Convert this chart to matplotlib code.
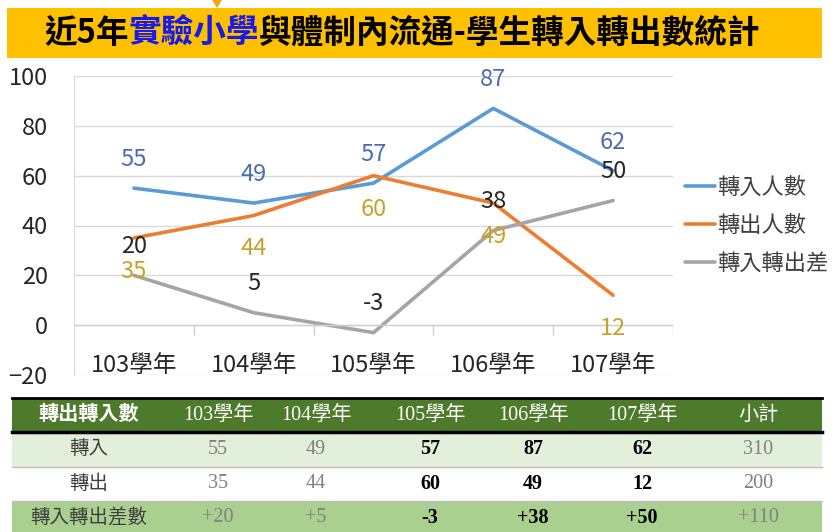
import matplotlib
matplotlib.use('Agg')
import matplotlib.pyplot as plt
from matplotlib.patches import Rectangle, Polygon

plt.rcParams['font.family'] = ['Noto Sans CJK TC', 'DejaVu Sans']

# data
years = ['103學年', '104學年', '105學年', '106學年', '107學年']
transfer_in = [55, 49, 57, 87, 62]
transfer_out = [35, 44, 60, 49, 12]
net_diff = [20, 5, -3, 38, 50]
series_names = ['轉入人數', '轉出人數', '轉入轉出差']

table_header = ['轉出轉入數'] + years + ['小計']
row_labels = ['轉入', '轉出', '轉入轉出差數']

W, H = 839, 532
fig = plt.figure(figsize=(W / 100, H / 100), dpi=100)

# overlay in pixel coords for title bar and table
ov = fig.add_axes([0, 0, 1, 1], zorder=0)
ov.set_xlim(0, W)
ov.set_ylim(H, 0)
ov.axis('off')

# title bar
ov.add_patch(Rectangle((7, 8), 815, 50, facecolor='#FFC000', edgecolor='none'))
ov.add_patch(Polygon([(212, 0), (222, 0), (217, 8)], closed=True,
                     facecolor='#F2A516', edgecolor='none'))
tfont = dict(fontsize=23.5, fontweight='bold', va='center')
t1 = ov.text(44, 33, '近5年', color='black', ha='left', **tfont)
t2 = ov.annotate('實驗小學', xy=(1, 0.5), xycoords=t1, color='#1A1AE6',
                 ha='left', **tfont)
t3 = ov.annotate('與體制內流通-學生轉入轉出數統計', xy=(1, 0.5), xycoords=t2,
                 color='black', ha='left', **tfont)

# main chart
ax = fig.add_axes([74 / W, 1 - 375 / H, (673 - 74) / W, (375 - 76) / H], zorder=1)
x = list(range(len(years)))
c_in, c_out, c_diff = '#5B9BD5', '#ED7D31', '#A5A5A5'
ax.plot(x, transfer_in, color=c_in, lw=2.6, label=series_names[0], solid_capstyle='round')
ax.plot(x, transfer_out, color=c_out, lw=2.6, label=series_names[1], solid_capstyle='round')
ax.plot(x, net_diff, color=c_diff, lw=2.6, label=series_names[2], solid_capstyle='round')

for xi, v in zip(x, transfer_in):
    ax.annotate(str(v), (xi, v), xytext=(0, 20.5), textcoords='offset points',
                ha='center', va='center', fontsize=17, color='#4A6CB0')
for xi, v in zip(x, transfer_out):
    ax.annotate(str(v), (xi, v), xytext=(0, -24), textcoords='offset points',
                ha='center', va='center', fontsize=17, color='#C9A02A')
for xi, v in zip(x, net_diff):
    ax.annotate(str(v), (xi, v), xytext=(0, 21), textcoords='offset points',
                ha='center', va='center', fontsize=17, color='#262626')

ax.set_xlim(-0.5, len(years) - 0.5)
ax.set_ylim(-20, 100)
ax.set_yticks(range(-20, 101, 20))
ax.grid(axis='y', color='#D9D9D9', lw=1)
ax.set_axisbelow(True)
for s in ['top', 'right', 'bottom']:
    ax.spines[s].set_visible(False)
ax.spines['left'].set_color('#D9D9D9')
ax.tick_params(axis='y', length=0, pad=19, labelsize=17, labelcolor='#262626')
ax.set_xticks([])
ax.axhline(0, color='#D0D0D0', lw=1)
ax.vlines([i + 0.5 for i in x], -4, 0, color='#D0D0D0', lw=1)
for xi, lab in zip(x, years):
    ax.text(xi, -16, lab, ha='center', va='center', fontsize=17, color='#262626')

fig.legend(loc='center left', bbox_to_anchor=(685 / W, 1 - 225 / H), frameon=False,
           fontsize=16, handlelength=1.35, handletextpad=0.1, labelspacing=0.68,
           borderpad=0, borderaxespad=0, labelcolor='#404040')

# table
tx0, tx1 = 12, 822
rows_y = [398, 432, 467, 501, 535]
row_fill = ['#4E7A2B', '#E2EFDA', '#FFFFFF', '#A9D08E']
for i, fc in enumerate(row_fill):
    ov.add_patch(Rectangle((tx0, rows_y[i]), tx1 - tx0, rows_y[i + 1] - rows_y[i],
                           facecolor=fc, edgecolor='none'))
ov.plot([tx0, tx1], [398, 398], color='black', lw=2)
ov.plot([tx0, tx1], [432, 432], color='black', lw=2.5)
ov.plot([tx0, tx1], [467, 467], color='#BFBFBF', lw=1)
ov.plot([tx0, tx1], [501, 501], color='#BFBFBF', lw=1)

col_x = [89, 218, 316, 430, 533, 642, 758]
serif = ['Liberation Serif', 'Noto Sans CJK TC']
for cx, h in zip(col_x, table_header):
    ov.text(cx, 415, h, ha='center', va='center', fontsize=14.5, color='white',
            family=serif, fontweight='bold' if cx == col_x[0] else 'normal')

rows = [
    [str(v) for v in transfer_in] + [str(sum(transfer_in))],
    [str(v) for v in transfer_out] + [str(sum(transfer_out))],
    [f'{v:+d}' for v in net_diff] + [f'{sum(net_diff):+d}'],
]
for r, (lab, vals) in enumerate(zip(row_labels, rows)):
    cy = (rows_y[r + 1] + rows_y[r + 2]) / 2
    ov.text(col_x[0], cy, lab, ha='center', va='center', fontsize=14,
            color='#404040', family=serif)
    for c, v in enumerate(vals):
        bold = 2 <= c <= 4
        ov.text(col_x[c + 1], cy, v, ha='center', va='center', fontsize=14.5,
                family=serif, color='black' if bold else '#808080',
                fontweight='bold' if bold else 'normal')

fig.savefig('out.png', dpi=100)
